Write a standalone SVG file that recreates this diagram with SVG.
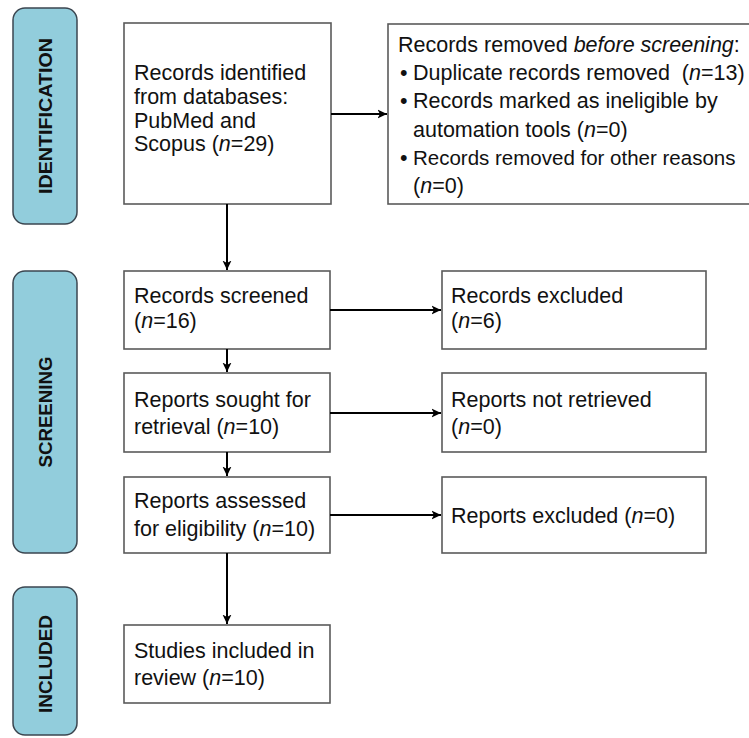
<svg xmlns="http://www.w3.org/2000/svg" width="749" height="738" viewBox="0 0 749 738">
<defs>
<marker id="arr" viewBox="0 0 10 10" refX="9.5" refY="5" markerWidth="10" markerHeight="10" markerUnits="userSpaceOnUse" orient="auto">
<path d="M0,0.5 L9.5,5 L0,9.5 L2.5,5 z" fill="#000"/>
</marker>
<style>
.pill{fill:#92CDDC;stroke:#3b4650;stroke-width:1.5}
.box{fill:#fff;stroke:#5a5a5a;stroke-width:1.6}
.t{font-family:"Liberation Sans",Arial,sans-serif;font-size:21.5px;fill:#111}
.lab{font-family:"Liberation Sans",Arial,sans-serif;font-size:18px;font-weight:bold;fill:#111;text-anchor:middle}
.c{stroke:#000;stroke-width:2;fill:none;marker-end:url(#arr)}
</style>
</defs>
<rect width="749" height="738" fill="#fff"/>
<g id="phase-identification">
<rect class="pill" x="13" y="8" width="64" height="216" rx="12"/>
<text class="lab" transform="translate(52,116) rotate(-90)" textLength="156" lengthAdjust="spacingAndGlyphs">IDENTIFICATION</text>
</g>
<g id="phase-screening">
<rect class="pill" x="13" y="271" width="64" height="282" rx="12"/>
<text class="lab" transform="translate(52,412) rotate(-90)" textLength="111" lengthAdjust="spacingAndGlyphs">SCREENING</text>
</g>
<g id="phase-included">
<rect class="pill" x="13" y="587" width="64" height="148" rx="12"/>
<text class="lab" transform="translate(52,664) rotate(-90)" textLength="98" lengthAdjust="spacingAndGlyphs">INCLUDED</text>
</g>
<g id="identified">
<rect class="box" x="124" y="23" width="207" height="181"/>
<text class="t" x="134" y="80">Records identified</text>
<text class="t" x="134" y="104">from databases:</text>
<text class="t" x="134" y="128">PubMed and</text>
<text class="t" x="134" y="151">Scopus (<tspan font-style="italic">n</tspan>=29)</text>
</g>
<g id="removed">
<rect class="box" x="388" y="24" width="380" height="180"/>
<text class="t" x="398" y="52">Records removed <tspan font-style="italic">before screening</tspan>:</text>
<text class="t" x="400" y="80">•</text>
<text class="t" x="413" y="80" xml:space="preserve">Duplicate records removed  (<tspan font-style="italic">n</tspan>=13)</text>
<text class="t" x="400" y="108">•</text>
<text class="t" x="413" y="108">Records marked as ineligible by</text>
<text class="t" x="413" y="137">automation tools (<tspan font-style="italic">n</tspan>=0)</text>
<text class="t" x="400" y="165">•</text>
<text class="t" x="413" y="165" style="font-size:20.5px">Records removed for other reasons</text>
<text class="t" x="413" y="193">(<tspan font-style="italic">n</tspan>=0)</text>
</g>
<g id="screened">
<rect class="box" x="124" y="271" width="206" height="78"/>
<text class="t" x="134" y="303">Records screened</text>
<text class="t" x="134" y="328">(<tspan font-style="italic">n</tspan>=16)</text>
</g>
<g id="excluded">
<rect class="box" x="442" y="271" width="264" height="78"/>
<text class="t" x="451" y="303">Records excluded</text>
<text class="t" x="451" y="328">(<tspan font-style="italic">n</tspan>=6)</text>
</g>
<g id="sought">
<rect class="box" x="124" y="373" width="206" height="79"/>
<text class="t" x="134" y="407">Reports sought for</text>
<text class="t" x="134" y="434">retrieval (<tspan font-style="italic">n</tspan>=10)</text>
</g>
<g id="not-retrieved">
<rect class="box" x="442" y="373" width="264" height="79"/>
<text class="t" x="451" y="407">Reports not retrieved</text>
<text class="t" x="451" y="434">(<tspan font-style="italic">n</tspan>=0)</text>
</g>
<g id="assessed">
<rect class="box" x="124" y="477" width="206" height="76"/>
<text class="t" x="134" y="508">Reports assessed</text>
<text class="t" x="134" y="536">for eligibility (<tspan font-style="italic">n</tspan>=10)</text>
</g>
<g id="reports-excluded">
<rect class="box" x="442" y="477" width="264" height="76"/>
<text class="t" x="451" y="523">Reports excluded (<tspan font-style="italic">n</tspan>=0)</text>
</g>
<g id="included">
<rect class="box" x="124" y="625" width="206" height="78"/>
<text class="t" x="134" y="658">Studies included in</text>
<text class="t" x="134" y="685">review (<tspan font-style="italic">n</tspan>=10)</text>
</g>
<g id="connectors">
<line class="c" x1="331" y1="114" x2="387" y2="114"/>
<line class="c" x1="227" y1="204" x2="227" y2="270"/>
<line class="c" x1="330" y1="310" x2="441" y2="310"/>
<line class="c" x1="227" y1="349" x2="227" y2="372"/>
<line class="c" x1="330" y1="413" x2="441" y2="413"/>
<line class="c" x1="227" y1="452" x2="227" y2="476"/>
<line class="c" x1="330" y1="515" x2="441" y2="515"/>
<line class="c" x1="227" y1="553" x2="227" y2="624"/>
</g>
</svg>
